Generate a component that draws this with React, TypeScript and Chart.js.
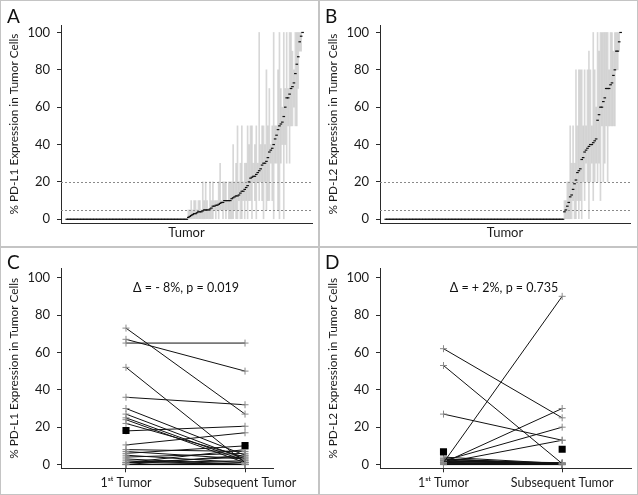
import React, { useEffect, useRef } from 'react';
import { Chart, registerables } from 'chart.js';

Chart.register(...registerables);

const FONT = 'Lato, "Liberation Sans", "DejaVu Sans", sans-serif';
Chart.defaults.font.family = FONT;
Chart.defaults.color = '#1a1a1a';

// ---------- data ----------
const yTicks = [0, 20, 40, 60, 80, 100];
const thresholds = [5, 20];
const pairLabels = ['1ˢᵗ Tumor', 'Subsequent Tumor'];

// Panel A: PD-L1 per tumor (sorted), median and range of the positive tumors
const pdl1Median = [
  0, 0, 0, 0, 0, 0, 0, 0, 0, 0, 0, 0, 0, 0, 0, 0, 0, 0, 0, 0, 0,
  0, 0, 0, 0, 0, 0, 0, 0, 0, 0, 0, 0, 0, 0, 0, 0, 0, 0, 0, 0, 0,
  0, 0, 0, 0, 0, 0, 0, 0, 0, 0, 0, 0, 0, 0, 0, 0, 0, 0, 0, 0, 0,
  0, 0, 0, 0, 0, 0, 0, 0, 0, 0, 0, 0, 0, 0, 0, 0, 0, 0, 0, 0, 0,
  1, 1.5, 2, 2.5, 3, 3, 3.5, 4, 4, 4, 4.5, 5, 5, 5, 5, 5.5, 6, 7, 7, 7.5,
  7.5, 8, 8.5, 9, 9, 10, 10, 10, 10, 10, 11, 11.5, 12, 12.5, 12.5, 13, 14, 15, 15, 16,
  17, 18, 20, 22, 22.5, 23, 23, 24, 25, 26, 27, 29, 30, 30, 31, 33, 36, 37, 38, 40,
  43, 45, 48, 50, 51, 52, 55, 60, 65, 65, 67, 70, 71, 73, 78, 83, 87, 95, 98, 100,
];
const pdl1Low = [
  0, 0, 0, 0, 0, 0, 0, 0, 0, 0, 0, 0, 0, 0, 0, 0, 0, 0, 5, 0,
  5, 0, 5, 5, 0, 5, 0, 5, 0, 0, 0, 0, 5, 0, 0, 10, 0, 0, 10, 0,
  10, 0, 10, 10, 0, 20, 10, 0, 20, 10, 20, 10, 0, 20, 5, 10, 10, 30, 10, 0,
  30, 30, 5, 0, 30, 40, 0, 40, 30, 50, 30, 50, 50, 60, 50, 50, 70, 90, 90, 100,
];
const pdl1High = [
  5, 5, 10, 5, 10, 10, 5, 10, 10, 5, 20, 10, 20, 10, 5, 20, 10, 20, 10, 10,
  10, 20, 30, 10, 20, 20, 20, 10, 20, 20, 20, 40, 20, 30, 50, 20, 30, 50, 20, 30,
  30, 50, 40, 50, 50, 30, 40, 50, 30, 100, 40, 50, 50, 40, 80, 50, 70, 40, 50, 100,
  50, 50, 80, 100, 70, 60, 100, 70, 100, 70, 100, 100, 90, 80, 100, 100, 100, 100, 100, 100,
];

// Panel B: PD-L2 per tumor (sorted)
const pdl2Median = [
  0, 0, 0, 0, 0, 0, 0, 0, 0, 0, 0, 0, 0, 0, 0, 0, 0, 0, 0, 0, 0, 0, 0, 0, 0, 0, 0, 0, 0, 0, 0,
  0, 0, 0, 0, 0, 0, 0, 0, 0, 0, 0, 0, 0, 0, 0, 0, 0, 0, 0, 0, 0, 0, 0, 0, 0, 0, 0, 0, 0, 0, 0,
  0, 0, 0, 0, 0, 0, 0, 0, 0, 0, 0, 0, 0, 0, 0, 0, 0, 0, 0, 0, 0, 0, 0, 0, 0, 0, 0, 0, 0, 0, 0,
  0, 0, 0, 0, 0, 0, 0, 0, 0, 0, 0, 0, 0, 0, 0, 0, 0, 0, 0, 0, 0, 0, 0, 0, 0, 0, 0, 0, 0, 0, 0,
  4, 5, 7, 9, 12, 13, 16, 19, 21, 25, 26, 27, 32, 33, 36, 37, 38, 39, 40, 40,
  41, 42, 43, 53, 56, 60, 60, 63, 65, 70, 70, 70, 72, 73, 77, 80, 90, 90, 95, 100,
];
const pdl2Low = [
  0, 0, 0, 0, 0, 0, 10, 0, 0, 10, 0, 10, 0, 20, 10, 30, 20, 0, 20, 30,
  10, 20, 30, 20, 30, 10, 50, 20, 30, 50, 20, 50, 50, 50, 50, 50, 80, 80, 90, 100,
];
const pdl2High = [
  10, 10, 20, 20, 50, 30, 50, 30, 80, 50, 80, 80, 80, 50, 80, 50, 80, 90, 80, 50,
  100, 80, 60, 100, 90, 100, 100, 100, 100, 100, 100, 80, 100, 100, 90, 100, 100, 100, 100, 100,
];

// Panel C: PD-L1 paired tumors
const pdl1First = [73, 67, 65, 52, 36, 30, 27, 25, 24, 22, 18, 10.5, 8, 7, 6, 5, 4, 1, 0, 0, 0, 1, 0, 2, 1, 3];
const pdl1Subsequent = [27, 50, 65, 1, 32, 5, 3, 2, 1, 4, 20.5, 17, 7, 3, 10, 1, 6, 8, 5, 0, 1, 4, 0, 0, 2, 0];
const pdl1Mean = [18.2, 10.2];

// Panel D: PD-L2 paired tumors
const pdl2First = [62, 53, 27, 1, 1, 2, 1, 3, 2, 1, 0.5, 4, 2, 3, 1, 0, 1, 2, 0, 3, 1, 2, 0];
const pdl2Subsequent = [25, 0.5, 13, 90, 30, 20, 13, 0.5, 0.5, 0.5, 0.5, 0.5, 0, 0, 0, 0, 0, 1, 0, 0, 0, 0, 1];
const pdl2Mean = [6.8, 8.2];

// ---------- helpers ----------
const AXIS = '#2a2a2a';

function thresholdLines(values: number[]) {
  return {
    id: 'thresholdLines',
    beforeDatasetsDraw(chart: any) {
      const { ctx, chartArea, scales } = chart;
      ctx.save();
      ctx.strokeStyle = '#8a8a8a';
      ctx.lineWidth = 1;
      ctx.setLineDash([2, 2]);
      values.forEach((v) => {
        const y = Math.round(scales.y.getPixelForValue(v)) + 0.5;
        ctx.beginPath();
        ctx.moveTo(chartArea.left, y);
        ctx.lineTo(chartArea.right, y);
        ctx.stroke();
      });
      ctx.restore();
    },
  };
}

function yScale(title: string, min: number, max: number) {
  return {
    type: 'linear',
    min,
    max,
    afterBuildTicks: (s: any) => {
      s.ticks = yTicks.map((v) => ({ value: v }));
    },
    grid: { display: true, drawOnChartArea: false, drawTicks: true, tickLength: 4, color: AXIS },
    border: { display: true, color: AXIS, width: 1 },
    ticks: { padding: 7, font: { size: 13 }, color: '#1a1a1a' },
    title: { display: true, text: title, font: { size: 11.8 }, padding: 0, color: '#1a1a1a' },
    afterFit: (s: any) => {
      s.width = 54;
    },
  };
}

function makeRankChart(canvas: HTMLCanvasElement, median: number[], low: number[], high: number[], yTitle: string, padRight: number) {
  const offset = median.length - low.length;
  const points = median.map((v, i) => ({ x: i, y: v }));
  const ranges = low.map((lo, k) => ({ x: offset + k, y: [lo, high[k]] }));
  return new Chart(canvas, {
    type: 'scatter',
    data: {
      datasets: [
        {
          type: 'bar',
          data: ranges as any,
          backgroundColor: 'rgba(160,160,160,0.42)',
          borderWidth: 0,
          barThickness: 1,
          grouped: false,
          order: 1,
        } as any,
        {
          type: 'scatter',
          data: points,
          pointStyle: 'line',
          pointRadius: 1.3,
          pointBorderColor: '#111',
          pointBorderWidth: 1.2,
          order: 0,
        } as any,
      ],
    },
    options: {
      animation: false,
      responsive: false,
      layout: { padding: { left: 6, right: padRight, top: 24, bottom: 5.8 } },
      plugins: { legend: { display: false }, tooltip: { enabled: false } },
      scales: {
        x: {
          type: 'linear',
          min: -4,
          max: 169.5,
          offset: false,
          grid: { display: false, offset: false },
          ticks: { display: false },
          border: { display: true, color: AXIS, width: 1 },
          title: { display: true, text: 'Tumor', font: { size: 13 }, padding: 0, color: '#1a1a1a' },
          afterFit: (s: any) => {
            s.height = 17.2;
          },
        },
        y: yScale(yTitle, -2, 104),
      } as any,
    },
    plugins: [thresholdLines(thresholds)],
  } as any);
}

function makePairChart(canvas: HTMLCanvasElement, first: number[], subsequent: number[], mean: number[], yTitle: string, xMin: number, xMax: number, padRight: number) {
  const pairSets = first.map((a, k) => ({
    type: 'line',
    data: [
      { x: 1, y: a },
      { x: 2, y: subsequent[k] },
    ],
    borderColor: '#111',
    borderWidth: 1,
    pointStyle: 'cross',
    pointRadius: 3.5,
    pointBorderColor: '#8a8a8a',
    pointBackgroundColor: '#8a8a8a',
    pointBorderWidth: 1,
    order: 1,
  }));
  const meanSet = {
    type: 'scatter',
    data: mean.map((v, i) => ({ x: i + 1, y: v })),
    pointStyle: 'rect',
    pointRadius: 5,
    pointBackgroundColor: '#000',
    pointBorderColor: '#000',
    pointBorderWidth: 0,
    order: 0,
  };
  return new Chart(canvas, {
    type: 'scatter',
    data: { datasets: [...pairSets, meanSet] as any },
    options: {
      animation: false,
      responsive: false,
      layout: { padding: { left: 6, right: padRight, top: 20.3, bottom: 1.7 } },
      plugins: { legend: { display: false }, tooltip: { enabled: false } },
      scales: {
        x: {
          type: 'linear',
          min: xMin,
          max: xMax,
          offset: false,
          afterBuildTicks: (s: any) => {
            s.ticks = pairLabels.map((_, i) => ({ value: i + 1 }));
          },
          grid: { display: true, drawOnChartArea: false, drawTicks: true, tickLength: 4, color: AXIS, offset: false },
          border: { display: true, color: AXIS, width: 1 },
          ticks: {
            padding: 3,
            font: { size: 12.5 },
            color: '#1a1a1a',
            maxRotation: 0,
            autoSkip: false,
            callback: (v: any) => pairLabels[Math.round(v) - 1] ?? '',
          },
          afterFit: (s: any) => {
            s.height = 24;
          },
        },
        y: yScale(yTitle, -2, 105),
      } as any,
    },
  } as any);
}

function ChartCanvas(props: { left: number; top: number; width: number; height: number; make: (c: HTMLCanvasElement) => Chart }) {
  const ref = useRef<HTMLCanvasElement>(null);
  useEffect(() => {
    const chart = props.make(ref.current as HTMLCanvasElement);
    return () => chart.destroy();
  }, []);
  return (
    <canvas
      ref={ref}
      width={props.width}
      height={props.height}
      style={{ position: 'absolute', left: props.left, top: props.top, width: props.width, height: props.height }}
    />
  );
}

const letterStyle = (left: number, top: number): React.CSSProperties => ({
  position: 'absolute',
  left,
  top,
  fontSize: 19,
  lineHeight: 'normal',
  color: '#111',
  fontFamily: FONT,
});

const noteStyle = (center: number, top: number): React.CSSProperties => ({
  position: 'absolute',
  left: center,
  top,
  transform: 'translateX(-50%)',
  fontSize: 12.5,
  lineHeight: 'normal',
  whiteSpace: 'nowrap',
  color: '#111',
  fontFamily: FONT,
});

const line = (left: number, top: number, width: number, height: number): React.CSSProperties => ({
  position: 'absolute',
  left,
  top,
  width,
  height,
  background: '#c4c4c4',
});

export default function App() {
  return (
    <div style={{ position: 'absolute', left: 0, top: 0, width: 638, height: 495, background: '#fff', overflow: 'hidden' }}>
      <div style={line(0, 0, 638, 1)} />
      <div style={line(0, 0, 1, 495)} />
      <div style={line(637, 0, 1, 495)} />
      <div style={line(0, 494, 638, 1)} />
      <div style={line(318, 0, 2, 495)} />
      <div style={line(0, 246, 638, 2)} />

      <ChartCanvas left={1} top={1} width={317} height={245} make={(c) => makeRankChart(c, pdl1Median, pdl1Low, pdl1High, '% PD-L1 Expression in Tumor Cells', 6)} />
      <ChartCanvas left={320} top={1} width={317} height={245} make={(c) => makeRankChart(c, pdl2Median, pdl2Low, pdl2High, '% PD-L2 Expression in Tumor Cells', 7)} />
      <ChartCanvas left={1} top={248} width={317} height={246} make={(c) => makePairChart(c, pdl1First, pdl1Subsequent, pdl1Mean, '% PD-L1 Expression in Tumor Cells', 0.454, 2.235, 45)} />
      <ChartCanvas left={320} top={248} width={317} height={246} make={(c) => makePairChart(c, pdl2First, pdl2Subsequent, pdl2Mean, '% PD-L2 Expression in Tumor Cells', 0.465, 2.58, 6)} />

      <div style={letterStyle(7, 4)}>A</div>
      <div style={letterStyle(325, 4)}>B</div>
      <div style={letterStyle(7, 250)}>C</div>
      <div style={letterStyle(325, 250)}>D</div>

      <div style={noteStyle(186, 280)}>Δ = - 8%, p = 0.019</div>
      <div style={noteStyle(504, 280)}>Δ = + 2%, p = 0.735</div>
    </div>
  );
}
